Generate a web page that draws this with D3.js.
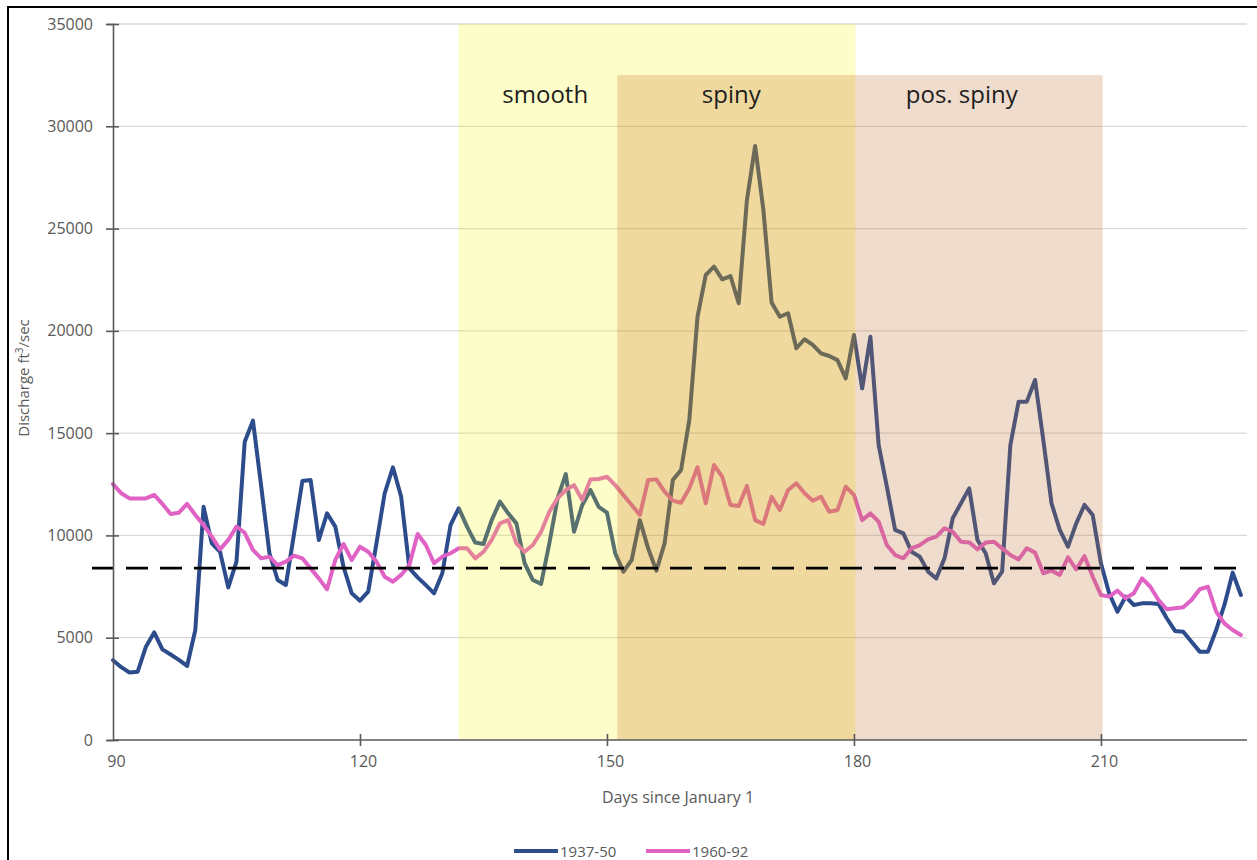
<!DOCTYPE html>
<html>
<head>
<meta charset="utf-8">
<script src="https://cdn.jsdelivr.net/npm/d3@7"></script>
<style>
  html, body { margin: 0; padding: 0; background: #fff; }
  svg { display: block; font-family: "Open Sans", "Noto Sans", sans-serif; }
</style>
</head>
<body>
<svg id="chart" width="1257" height="860"></svg>
<script>
// Mean daily discharge (ft³/sec) by day of year, two periods of record
const days = d3.range(90, 228);

const flow1937_50 = [
  3900, 3560, 3300, 3340, 4560, 5260, 4430, 4180, 3920, 3620,
  5380, 11400, 9610, 9200, 7460, 8720, 14580, 15610, 12400, 9130,
  7820, 7580, 10100, 12660, 12710, 9780, 11080, 10430, 8470, 7170,
  6810, 7250, 9610, 12060, 13330, 11890, 8390, 7950, 7570, 7170,
  8150, 10510, 11330, 10430, 9650, 9580, 10750, 11650, 11080, 10590,
  8640, 7820, 7630, 9610, 11810, 13000, 10180, 11490, 12220, 11400,
  11110, 9130, 8230, 8800, 10750, 9370, 8280, 9610, 12710, 13200,
  15640, 20690, 22730, 23140, 22520, 22680, 21350, 26400, 29040, 25910,
  21380, 20690, 20860, 19150, 19590, 19310, 18900, 18770, 18570, 17680,
  19800, 17190, 19710, 14420, 12380, 10270, 10100, 9200, 8960, 8230,
  7900, 8880, 10840, 11570, 12300, 9780, 9130, 7660, 8230, 14420,
  16540, 16540, 17600, 14660, 11570, 10270, 9450, 10590, 11490, 11000,
  8640, 7170, 6270, 7010, 6600, 6680, 6680, 6650, 5950, 5330,
  5290, 4800, 4320, 4320, 5380, 6600, 8180, 7090
];

const flow1960_92 = [
  12510, 12060, 11810, 11810, 11810, 11980, 11540, 11050, 11110, 11540,
  11000, 10510, 9940, 9320, 9780, 10430, 10130, 9290, 8880, 8960,
  8550, 8720, 9010, 8880, 8390, 7900, 7370, 8800, 9580, 8800,
  9450, 9200, 8720, 7980, 7740, 8070, 8550, 10070, 9530, 8640,
  8960, 9130, 9370, 9370, 8880, 9200, 9780, 10590, 10750, 9610,
  9200, 9530, 10180, 11160, 11810, 12220, 12460, 11730, 12740, 12760,
  12870, 12460, 11980, 11490, 11000, 12710, 12740, 12140, 11700, 11600,
  12300, 13330, 11570, 13440, 12870, 11490, 11440, 12420, 10750, 10560,
  11890, 11240, 12220, 12550, 12060, 11700, 11890, 11160, 11240, 12380,
  11980, 10750, 11080, 10670, 9530, 9040, 8880, 9370, 9530, 9810,
  9940, 10350, 10180, 9690, 9660, 9320, 9650, 9690, 9370, 9040,
  8830, 9370, 9160, 8150, 8280, 8070, 8930, 8340, 8990, 7980,
  7090, 7010, 7300, 6930, 7170, 7900, 7490, 6840, 6390, 6440,
  6490, 6840, 7370, 7490, 6270, 5700, 5380, 5130
];

const referenceFlow = 8400;

const xTickValues = [90, 120, 150, 180, 210];
const yTickValues = [0, 5000, 10000, 15000, 20000, 25000, 30000, 35000];

// Spine-development phases (day ranges and upper extent in ft³/sec)
const phaseNames = ["smooth", "spiny", "pos. spiny"];
const phaseStart = [132, 151.25, 180.2];
const phaseEnd   = [180.2, 180.2, 210.2];
const phaseTop   = [35000, 32500, 32500];
const phaseLabelDay = [142.5, 165.1, 193.1];

const seriesNames = ["1937-50", "1960-92"];

// ---- layout & styles ----
const svg = d3.select("#chart");
const x = d3.scaleLinear().domain([90, 227.5]).range([113, 1245]);
const y = d3.scaleLinear().domain([0, 35000]).range([740, 24]);

const seriesColor = ["#2c4c8c", "#df62c4"];
const phaseFill = [
  { c: "rgb(246,246,10)", a: 0.22 },
  { c: "rgb(187,86,6)",   a: 0.21 },
  { c: "rgb(195,115,51)", a: 0.25 }
];
const axisColor = "#595959";
const labelColor = "#595959";

// Outer frame
svg.append("rect")
  .attr("x", 8).attr("y", 7)
  .attr("width", 1300).attr("height", 900)
  .attr("fill", "none").attr("stroke", "#000").attr("stroke-width", 2);

// Horizontal gridlines
svg.append("g").selectAll("line")
  .data(yTickValues.filter(v => v > 0))
  .join("line")
  .attr("x1", x.range()[0]).attr("x2", 1247)
  .attr("y1", d => y(d)).attr("y2", d => y(d))
  .attr("stroke", "#d9d9d9").attr("stroke-width", 1.3);

// Discharge lines
const line = d3.line()
  .x((d, i) => x(days[i]))
  .y(d => y(d));

[flow1937_50, flow1960_92].forEach((series, k) => {
  svg.append("path")
    .datum(series)
    .attr("d", line)
    .attr("fill", "none")
    .attr("stroke", seriesColor[k])
    .attr("stroke-width", 4)
    .attr("stroke-linejoin", "round")
    .attr("stroke-linecap", "round");
});

// Translucent phase bands over the hydrographs
svg.append("g").selectAll("rect")
  .data(phaseNames)
  .join("rect")
  .attr("x", (d, i) => x(phaseStart[i]))
  .attr("width", (d, i) => x(phaseEnd[i]) - x(phaseStart[i]))
  .attr("y", (d, i) => y(phaseTop[i]))
  .attr("height", (d, i) => y(0) - y(phaseTop[i]))
  .attr("fill", (d, i) => phaseFill[i].c)
  .attr("fill-opacity", (d, i) => phaseFill[i].a);

// Phase labels
svg.append("g").selectAll("text")
  .data(phaseNames)
  .join("text")
  .attr("x", (d, i) => x(phaseLabelDay[i]))
  .attr("y", 103)
  .attr("text-anchor", "middle")
  .attr("font-size", 24)
  .attr("fill", "#1e1e1e")
  .text(d => d);

// Reference discharge (dashed)
svg.append("line")
  .attr("x1", 92).attr("x2", 1248)
  .attr("y1", y(referenceFlow)).attr("y2", y(referenceFlow))
  .attr("stroke", "#000").attr("stroke-width", 2.6)
  .attr("stroke-dasharray", "22,12");

// Y axis
const yAxis = svg.append("g")
  .attr("transform", `translate(${x.range()[0]},0)`)
  .call(d3.axisLeft(y).tickValues(yTickValues).tickSize(6).tickPadding(14).tickFormat(d3.format("d")));
yAxis.select(".domain").attr("stroke", axisColor).attr("stroke-width", 1.6);
yAxis.selectAll(".tick line").attr("x1", -7).attr("x2", 6).attr("stroke", axisColor).attr("stroke-width", 1.6);
yAxis.selectAll(".tick text").attr("x", -20).attr("font-size", 16).attr("fill", labelColor)
  .attr("font-family", "'Open Sans', sans-serif");

// X axis
const xAxis = svg.append("g")
  .attr("transform", `translate(0,${y(0)})`)
  .call(d3.axisBottom(x).tickValues(xTickValues).tickSize(6).tickPadding(12).tickFormat(d3.format("d")));
xAxis.select(".domain").attr("d", `M${x.range()[0]},0H1247`).attr("stroke", axisColor).attr("stroke-width", 1.6);
xAxis.selectAll(".tick line").attr("y1", -6).attr("y2", 6).attr("stroke", axisColor).attr("stroke-width", 1.6)
  .attr("display", d => d === 90 ? "none" : null);
xAxis.selectAll(".tick text").attr("y", 16).attr("dx", 3).attr("font-size", 16).attr("fill", labelColor)
  .attr("font-family", "'Open Sans', sans-serif");

// Axis titles
svg.append("text")
  .attr("x", 678).attr("y", 803)
  .attr("text-anchor", "middle")
  .attr("font-size", 16).attr("fill", labelColor)
  .text("Days since January 1");

const yTitle = svg.append("text")
  .attr("transform", "translate(29,378) rotate(-90)")
  .attr("text-anchor", "middle")
  .attr("font-size", 15).attr("fill", labelColor);
yTitle.append("tspan").text("Discharge ft");
yTitle.append("tspan").attr("dy", -6).attr("font-size", 10).text("3");
yTitle.append("tspan").attr("dy", 6).text("/sec");

// Legend
const legend = svg.append("g").attr("transform", "translate(514,851)");
const legendX = [0, 132];
seriesNames.forEach((name, k) => {
  const g = legend.append("g").attr("transform", `translate(${legendX[k]},0)`);
  g.append("line").attr("x1", 0).attr("x2", 44).attr("y1", 0).attr("y2", 0)
    .attr("stroke", seriesColor[k]).attr("stroke-width", 4);
  g.append("text").attr("x", 46).attr("y", 0)
    .attr("dominant-baseline", "central")
    .attr("font-size", 15).attr("fill", labelColor).text(name);
});
</script>
</body>
</html>
